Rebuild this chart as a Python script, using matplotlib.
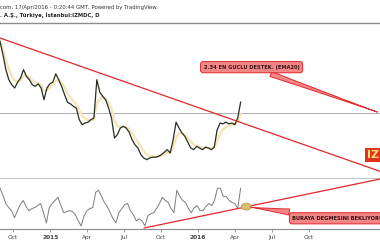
import matplotlib
matplotlib.use('Agg')
import matplotlib.pyplot as plt
import matplotlib.dates as mdates
from matplotlib.patches import Ellipse
import numpy as np
import pandas as pd

# price closes (roughly weekly), late Aug 2014 -> 15 Apr 2016
closes = [3.20, 3.04, 2.86, 2.74, 2.68, 2.64, 2.71, 2.76, 2.86, 2.78,
          2.74, 2.68, 2.66, 2.69, 2.64, 2.50, 2.64, 2.69, 2.71, 2.81,
          2.74, 2.66, 2.56, 2.47, 2.45, 2.42, 2.40, 2.26, 2.20, 2.22,
          2.23, 2.26, 2.28, 2.74, 2.59, 2.54, 2.50, 2.40, 2.28, 2.04,
          2.08, 2.16, 2.18, 2.16, 2.11, 2.02, 1.96, 1.92, 1.84, 1.80,
          1.78, 1.80, 1.81, 1.81, 1.82, 1.84, 1.87, 1.90, 1.86, 2.02,
          2.23, 2.16, 2.10, 2.06, 1.99, 1.92, 1.90, 1.94, 1.92, 1.90,
          1.93, 1.92, 1.90, 1.93, 2.14, 2.22, 2.21, 2.23, 2.21, 2.22,
          2.20, 2.28, 2.47]

# oscillator panel values
osc_vals = [68.0, 59.6, 50.0, 45.2, 41.6, 33.2, 41.6, 48.8, 53.6, 46.4,
            41.6, 44.0, 45.2, 47.6, 50.0, 39.2, 27.2, 45.2, 50.0, 53.6,
            57.2, 47.6, 39.2, 40.4, 41.6, 40.4, 36.8, 29.6, 23.6, 35.6,
            41.6, 44.0, 45.2, 63.2, 65.6, 58.4, 51.2, 46.4, 39.2, 32.0,
            27.2, 39.2, 44.0, 48.8, 50.0, 41.6, 36.8, 29.6, 32.0, 29.6,
            23.6, 35.6, 38.0, 39.2, 44.0, 50.0, 57.2, 53.6, 51.2, 44.0,
            39.2, 65.6, 58.4, 53.6, 51.2, 44.0, 39.2, 45.2, 47.6, 41.6,
            41.6, 46.4, 50.0, 47.6, 53.6, 68.0, 68.0, 58.4, 58.4, 53.6,
            51.2, 50.0, 44.0, 68.0]

first_day = '2014-08-30'
last_day = '2016-04-15'
view_end = '2017-03-25'

support = 2.34
upper_trend = [('2014-08-30', 3.24), ('2017-03-25', 1.64)]
osc_trend = [('2015-08-21', 21.2), ('2017-03-25', 78.8)]

tick_dates = ['2014-10-01', '2015-01-01', '2015-04-01', '2015-07-01', '2015-10-01',
              '2016-01-01', '2016-04-01', '2016-07-01', '2016-10-01']
tick_labels = ['Oct', '2015', 'Apr', 'Jul', 'Oct', '2016', 'Apr', 'Jul', 'Oct']

red = '#e2262b'
callout_fc = '#f38787'

price_dates = pd.date_range(first_day, last_day, periods=len(closes))
osc_dates = pd.date_range(first_day, last_day, periods=len(osc_vals))
ema = pd.Series(closes).ewm(span=4).mean()

fig = plt.figure(figsize=(3.8, 2.4), dpi=100)
ax = fig.add_axes([0, 0.2583, 1, 0.6458])
osc = fig.add_axes([0, 0.0458, 1, 0.2125])

x0, x1 = pd.Timestamp(first_day), pd.Timestamp(view_end)

# main price panel
ax.plot(price_dates, ema, color='#f6e6bb', lw=1.8, solid_capstyle='round', zorder=2)
ax.plot(price_dates, closes, color='#26301f', lw=0.9, zorder=3)
ax.axhline(support, color='#a0a0a0', lw=0.6, zorder=1)
ax.plot(pd.to_datetime([p[0] for p in upper_trend]), [p[1] for p in upper_trend],
        color=red, lw=0.9, zorder=4)
ax.set_xlim(x0, x1)
ax.set_ylim(1.56, 3.42)
ax.set_xticks([])
ax.set_yticks([])
for s in ['left', 'right', 'bottom']:
    ax.spines[s].set_visible(False)
ax.spines['top'].set_color('#8c8c8c')
ax.spines['top'].set_linewidth(1.0)

ax.annotate('2.34 EN GUCLU DESTEK. (EMA20)',
            xy=(x1, support), xytext=(pd.Timestamp('2016-05-12'), 2.89),
            ha='center', va='center', fontsize=3.7, fontweight='bold', color='#3a1010',
            bbox=dict(boxstyle='round,pad=0.6,rounding_size=0.5', fc=callout_fc, ec=red, lw=0.7),
            arrowprops=dict(arrowstyle='wedge,tail_width=1.0,shrink_factor=0.4',
                            fc=callout_fc, ec=red, lw=0.7),
            annotation_clip=False, zorder=6)

# oscillator panel
osc.plot(osc_dates, osc_vals, color='#7d7d7d', lw=0.7, zorder=2)
osc.plot(pd.to_datetime([p[0] for p in osc_trend]), [p[1] for p in osc_trend],
         color=red, lw=0.9, zorder=3)
osc.add_patch(Ellipse((mdates.date2num(pd.Timestamp('2016-04-29')), 46.4),
                      width=25, height=8, fc='#d8bd74', ec='#c79b3c', lw=0.6, zorder=5))
osc.annotate('BURAYA DEGMESINI BEKLIYORUZ',
             xy=(pd.Timestamp('2016-05-03'), 46.0),
             xytext=(pd.Timestamp('2016-08-21'), 32.6),
             ha='left', va='center', fontsize=3.7, fontweight='bold', color='#3a1010',
             bbox=dict(boxstyle='round,pad=0.6,rounding_size=0.5', fc=callout_fc, ec=red, lw=0.7),
             arrowprops=dict(arrowstyle='wedge,tail_width=1.2,shrink_factor=0.4',
                             fc=callout_fc, ec=red, lw=0.7),
             annotation_clip=False, zorder=6)
osc.set_xlim(x0, x1)
osc.set_ylim(20, 80)
osc.set_yticks([])
osc.set_xticks(pd.to_datetime(tick_dates))
osc.set_xticklabels(tick_labels)
for lbl in osc.get_xticklabels():
    if lbl.get_text().isdigit():
        lbl.set_fontweight('bold')
osc.tick_params(axis='x', length=2, width=0.5, color='#777', labelsize=4.2,
                pad=2, labelcolor='#444')
for s in ['left', 'right']:
    osc.spines[s].set_visible(False)
osc.spines['top'].set_color('#c4c4c4')
osc.spines['top'].set_linewidth(0.7)
osc.spines['bottom'].set_color('#8c8c8c')
osc.spines['bottom'].set_linewidth(0.8)

# header
fig.text(0.0, 1 - 7 / 240, 'com, 17/Apr/2016 - 0:20:44 GMT, Powered by TradingView.',
         fontsize=3.9, va='center', color='#333333')
fig.text(0.0, 1 - 15 / 240, '. A.Ş., Türkiye, İstanbul:IZMDC, D',
         fontsize=3.8, va='center', fontweight='bold', color='#222222')

# symbol label on the (cut) right scale
fig.text(367 / 380, 1 - 155 / 240, 'IZMDC', fontsize=8, fontweight='bold', color='#ffe37a',
         va='center', bbox=dict(boxstyle='square,pad=0.15', fc='#e0321d', ec='none'))

fig.savefig('out.png', dpi=100)
